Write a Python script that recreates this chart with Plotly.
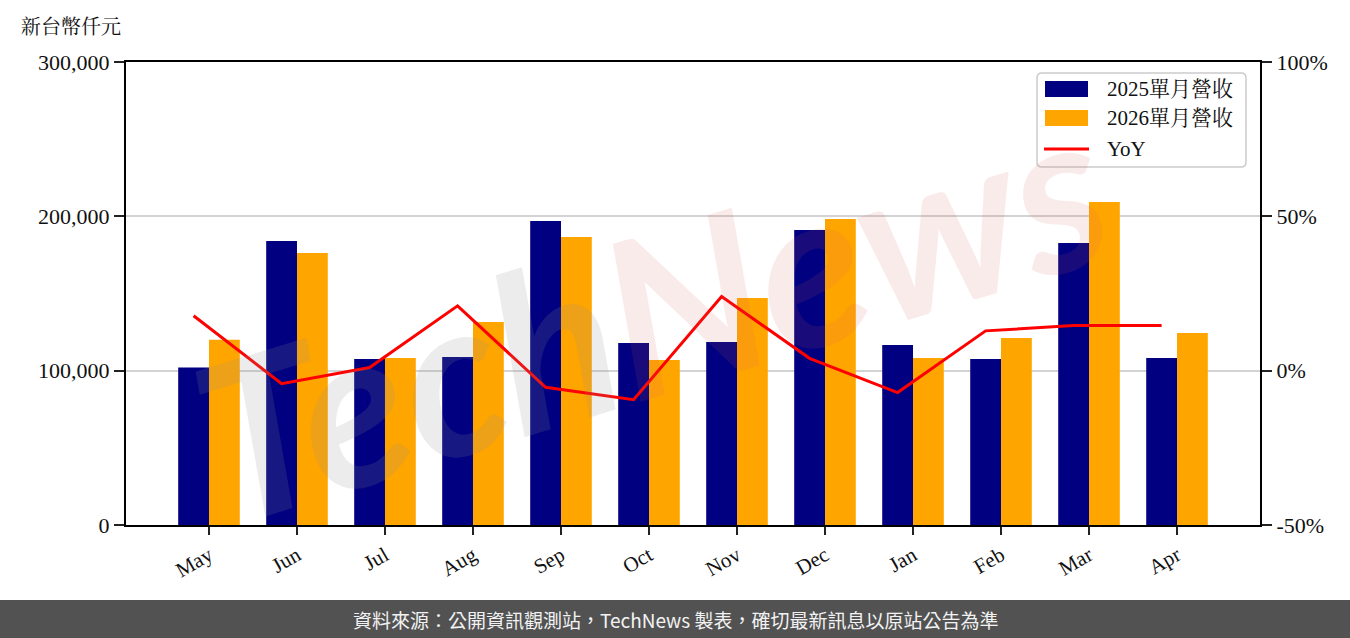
import plotly.graph_objects as go

months = ["May", "Jun", "Jul", "Aug", "Sep", "Oct", "Nov", "Dec", "Jan", "Feb", "Mar", "Apr"]
rev_2025 = [102000, 184000, 107500, 108800, 197000, 117900, 118600, 191100, 116600, 107500, 182700, 108200]
rev_2026 = [120000, 176200, 108200, 131500, 186600, 106900, 147100, 198300, 108200, 121200, 209300, 124400]
yoy_pct = [17.8, -4.2, 1.0, 21.0, -5.4, -9.4, 24.0, 4.0, -7.1, 12.9, 14.6, 14.6]

y_ticks = [0, 100000, 200000, 300000]
y2_ticks = [-50, 0, 50, 100]
y2_labels = ["-50%", "0%", "50%", "100%"]
series_names = ["2025單月營收", "2026單月營收", "YoY"]
series_colors = ["#000080", "#FFA500", "#FF0000"]

idx = list(range(len(months)))
line_x = [i - 0.175 for i in idx]

FONT = "Liberation Serif, Noto Serif CJK TC, Noto Sans CJK TC, serif"

# plot area in page pixels
L, R, T, B = 126, 1260, 62, 525
W, H = R - L, B - T


def px(x):
    return (x - L) / W


def py(y):
    return (B - y) / H


fig = go.Figure()
fig.add_trace(go.Bar(x=idx, y=rev_2025, name=series_names[0], marker_color=series_colors[0],
                     marker_line_width=0))
fig.add_trace(go.Bar(x=idx, y=rev_2026, name=series_names[1], marker_color=series_colors[1],
                     marker_line_width=0))
fig.add_trace(go.Scatter(x=line_x, y=yoy_pct, name=series_names[2], mode="lines",
                         line=dict(color=series_colors[2], width=3), yaxis="y2"))

fig.update_layout(
    width=1350, height=638,
    margin=dict(l=L, r=1350 - R, t=T, b=638 - B),
    paper_bgcolor="white", plot_bgcolor="rgba(0,0,0,0)",
    barmode="group", bargap=0.3, bargroupgap=0,
    font=dict(family=FONT, size=22, color="#111"),
    showlegend=False,
    xaxis=dict(range=[-0.943, 11.943], tickmode="array", tickvals=idx, ticktext=months,
               tickangle=-30, ticks="outside", ticklen=8, tickwidth=1.5, tickcolor="#222",
               showline=True, linecolor="black", linewidth=2, mirror=True,
               showgrid=False, zeroline=False,
               tickfont=dict(family=FONT, size=21)),
    yaxis=dict(range=[0, 300000], tickmode="array", tickvals=y_ticks, tickformat=",d",
               ticks="outside", ticklen=10, tickwidth=1.5, tickcolor="#222",
               showline=True, linecolor="black", linewidth=2,
               showgrid=True, gridcolor="#d3d3d3", gridwidth=1.5, zeroline=False,
               tickfont=dict(family=FONT, size=22)),
    yaxis2=dict(range=[-50, 100], tickmode="array", tickvals=y2_ticks, ticktext=y2_labels,
                overlaying="y", side="right",
                ticks="outside", ticklen=10, tickwidth=1.5, tickcolor="#222",
                showline=True, linecolor="black", linewidth=2,
                showgrid=False, zeroline=False,
                tickfont=dict(family=FONT, size=22)),
)

# watermark
fig.add_annotation(xref="paper", yref="paper", x=px(650), y=py(310), showarrow=False,
                   text="<b><i><span style='color:rgba(140,140,140,0.17)'>Tech</span>"
                        "<span style='color:rgba(215,90,90,0.12)'>News</span></i></b>",
                   font=dict(family="Lato, sans-serif", size=220), textangle=-17)

# manual legend
lx0, lx1, ly0, ly1, r = 1037, 1246, 73, 167, 5
rx, ry = r / W, r / H
X0, X1, Y0, Y1 = px(lx0), px(lx1), py(ly0), py(ly1)
path = (f"M {X0+rx},{Y0} L {X1-rx},{Y0} Q {X1},{Y0} {X1},{Y0-ry} "
        f"L {X1},{Y1+ry} Q {X1},{Y1} {X1-rx},{Y1} L {X0+rx},{Y1} Q {X0},{Y1} {X0},{Y1+ry} "
        f"L {X0},{Y0-ry} Q {X0},{Y0} {X0+rx},{Y0} Z")
fig.add_shape(type="path", xref="paper", yref="paper", path=path,
              fillcolor="rgba(255,255,255,0.8)", line=dict(color="#cccccc", width=1.5),
              layer="above")
rows_y = [89, 118, 149]
for i, (name, col) in enumerate(zip(series_names, series_colors)):
    yc = rows_y[i]
    if i < 2:
        fig.add_shape(type="rect", xref="paper", yref="paper",
                      x0=px(1045), x1=px(1088), y0=py(yc - 8), y1=py(yc + 8),
                      fillcolor=col, line_width=0, layer="above")
    else:
        fig.add_shape(type="line", xref="paper", yref="paper",
                      x0=px(1044), x1=px(1089), y0=py(yc), y1=py(yc),
                      line=dict(color=col, width=3), layer="above")
    fig.add_annotation(xref="paper", yref="paper", x=px(1105), y=py(yc),
                       xanchor="left", yanchor="middle", showarrow=False,
                       text=name, font=dict(family=FONT, size=21, color="#111"))

# unit label
fig.add_annotation(xref="paper", yref="paper", x=px(19), y=py(27),
                   xanchor="left", yanchor="middle", showarrow=False,
                   text="新台幣仟元", font=dict(family=FONT, size=20, color="#111"))

# footer band
fig.add_shape(type="rect", xref="paper", yref="paper",
              x0=px(0), x1=px(1350), y0=py(638), y1=py(600),
              fillcolor="#525252", line_width=0, layer="above")
fig.add_annotation(xref="paper", yref="paper", x=px(675), y=py(619),
                   xanchor="center", yanchor="middle", showarrow=False,
                   text="資料來源：公開資訊觀測站，TechNews 製表，確切最新訊息以原站公告為準",
                   font=dict(family="Noto Sans CJK TC, sans-serif", size=19, color="#f2f2f2"))

fig.write_html("out.html", config={"displayModeBar": False},
               post_script="document.body.style.margin='0';")
